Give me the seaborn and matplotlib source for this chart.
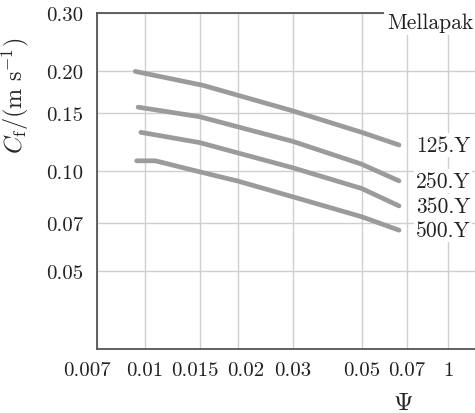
import pandas as pd
import seaborn as sns
import matplotlib.pyplot as plt
import matplotlib.transforms as mtransforms

# (log-log axes)
psi_125 = [0.0093, 0.0154, 0.03, 0.05, 0.066]
cf_125 = [0.200, 0.1815, 0.152, 0.131, 0.120]
psi_250 = [0.0095, 0.015, 0.03, 0.05, 0.066]
cf_250 = [0.156, 0.146, 0.123, 0.105, 0.0935]
psi_350 = [0.0097, 0.015, 0.03, 0.05, 0.066]
cf_350 = [0.131, 0.122, 0.1024, 0.0887, 0.0786]
psi_500 = [0.0094, 0.0108, 0.015, 0.02, 0.03, 0.05, 0.066]
cf_500 = [0.1075, 0.1075, 0.0996, 0.0933, 0.0837, 0.0729, 0.0664]

series_names = ['125.Y', '250.Y', '350.Y', '500.Y']
x_ticks = [0.007, 0.01, 0.015, 0.02, 0.03, 0.05, 0.07, 0.095]
x_ticklabels = ['0.007', '0.01', '0.015', '0.02', '0.03', '0.05', '0.07', '1']
y_ticks = [0.05, 0.07, 0.10, 0.15, 0.20, 0.30]
y_ticklabels = ['0.05', '0.07', '0.10', '0.15', '0.20', '0.30']

rows = []
for name, xs, ys in zip(series_names, [psi_125, psi_250, psi_350, psi_500],
                        [cf_125, cf_250, cf_350, cf_500]):
    for x, y in zip(xs, ys):
        rows.append({'psi': x, 'cf': y, 'packing': name})
df = pd.DataFrame(rows)

sns.set_style('white')
plt.rcParams['font.family'] = ['cmr10', 'DejaVu Serif']
plt.rcParams['mathtext.fontset'] = 'cm'
plt.rcParams['axes.formatter.use_mathtext'] = True

fig = plt.figure(figsize=(4.75, 4.14), dpi=100)
ax = fig.add_axes([97 / 475, 1 - 350 / 414, 612 / 475, 336 / 414])

sns.lineplot(data=df, x='psi', y='cf', hue='packing', units='packing',
             estimator=None, palette=['#9b9b9b'] * 4, linewidth=3.4,
             legend=False, ax=ax, zorder=3)

ax.set_xscale('log')
ax.set_yscale('log')
ax.set_xlim(0.007, 0.66)
ax.set_ylim(0.0291, 0.30)
ax.minorticks_off()
ax.set_xticks(x_ticks)
ax.set_xticklabels(x_ticklabels)
ax.set_yticks(y_ticks)
ax.set_yticklabels(y_ticklabels)
ax.tick_params(axis='both', length=0, labelsize=15, colors='#222222')
ax.tick_params(axis='x', pad=9)
ax.tick_params(axis='y', pad=10)
ax.grid(True, color='#cfcfcf', linewidth=1.0)

# nudge crowded x tick labels like the original
shifts = {0: -10, 2: -5, 3: 7}
for i, lab in enumerate(ax.get_xticklabels()):
    if i in shifts:
        off = mtransforms.ScaledTranslation(shifts[i] / 100, 0, fig.dpi_scale_trans)
        lab.set_transform(lab.get_transform() + off)

for side in ['left', 'bottom', 'top']:
    ax.spines[side].set_color('#555555')
    ax.spines[side].set_linewidth(1.3)
ax.spines['right'].set_visible(False)

ax.set_xlabel(r'$\Psi$', fontsize=18, labelpad=9)
ax.set_ylabel(r'$C_\mathrm{f}/(\mathrm{m\ s^{-1}})$', fontsize=17.5)
ax.yaxis.set_label_coords(-66 / 612, 0.755)

for name, xs, ys in zip(series_names, [psi_125, psi_250, psi_350, psi_500],
                        [cf_125, cf_250, cf_350, cf_500]):
    ax.annotate(name, xy=(xs[-1], ys[-1]), xytext=(12, 0), textcoords='offset points',
                ha='left', va='center', fontsize=15.5, color='#222222',
                bbox=dict(facecolor='white', edgecolor='none', pad=1.5), zorder=4)

fig.text(473 / 475, 1 - 23 / 414, 'Mellapak', ha='right', va='center', fontsize=15.5,
         color='#222222', bbox=dict(facecolor='white', edgecolor='none', pad=2))

fig.savefig('out.png', dpi=100)
